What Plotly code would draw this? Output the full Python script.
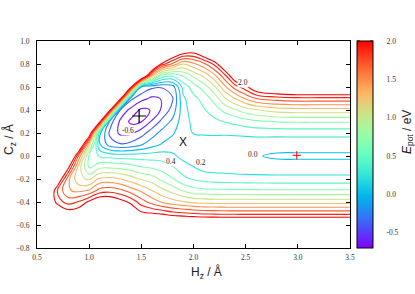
import numpy as np
import plotly.graph_objects as go

# ---------------- data ----------------
h_z = [0.5, 0.6, 0.7, 0.8, 0.9, 1.0, 1.1, 1.2, 1.3, 1.4, 1.5, 1.6, 1.7, 1.8, 1.9,
       2.0, 2.1, 2.2, 2.3, 2.4, 2.5, 2.6, 2.8, 3.0, 3.2, 3.5]
c_z = [-0.8, -0.7, -0.6, -0.5, -0.4, -0.3, -0.2, -0.1, 0.0, 0.1, 0.2, 0.3, 0.4,
       0.5, 0.6, 0.7, 0.8, 0.9, 1.0]

# E_pot (eV), one row per C_z value, one column per H_z value
e_pot = [
    [3.0, 3.0, 3.0, 3.0, 3.0, 3.0, 3.0, 3.0, 3.0, 3.0, 3.0, 3.0, 3.0, 3.0, 3.0, 3.0, 3.0, 3.0, 3.0, 3.0, 3.0, 3.0, 3.0, 3.0, 3.0, 3.0],
    [3.0, 3.0, 3.0, 3.0, 3.0, 3.0, 3.0, 3.0, 3.0, 3.0, 3.0, 3.0, 3.0, 3.0, 3.0, 3.0, 3.0, 3.0, 3.0, 3.0, 3.0, 3.0, 3.0, 3.0, 3.0, 3.0],
    [3.0, 3.0, 3.0, 3.0, 3.0, 3.0, 3.0, 3.0, 3.0, 3.0, 3.0, 2.75, 2.65, 2.58, 2.55, 2.53, 2.52, 2.52, 2.52, 2.52, 2.515, 2.515, 2.514, 2.514, 2.514, 2.514],
    [3.0, 3.0, 2.4, 2.15, 2.2, 2.4, 2.6, 2.6, 2.45, 2.25, 2.05, 2.02, 1.96, 1.88, 1.84, 1.8, 1.77, 1.76, 1.75, 1.745, 1.744, 1.744, 1.744, 1.744, 1.744, 1.744],
    [3.0, 2.4, 1.88, 1.72, 1.82, 2.05, 2.25, 2.25, 2.1, 1.95, 1.7, 1.52, 1.38, 1.28, 1.22, 1.15, 1.13, 1.12, 1.115, 1.114, 1.114, 1.114, 1.114, 1.114, 1.114, 1.114],
    [3.0, 2.5, 1.75, 1.42, 1.35, 1.42, 1.68, 1.72, 1.65, 1.5, 1.36, 1.2, 1.05, 0.92, 0.78, 0.68, 0.65, 0.64, 0.635, 0.63, 0.628, 0.626, 0.624, 0.624, 0.624, 0.624],
    [3.0, 3.0, 2.3, 1.45, 1.05, 0.97, 1.24, 1.26, 1.2, 1.1, 0.98, 0.9, 0.75, 0.62, 0.45, 0.38, 0.33, 0.31, 0.3, 0.29, 0.285, 0.28, 0.274, 0.274, 0.274, 0.274],
    [3.0, 3.0, 3.0, 2.05, 1.1, 0.57, 0.76, 0.78, 0.75, 0.7, 0.62, 0.58, 0.52, 0.42, 0.3, 0.21, 0.13, 0.11, 0.1, 0.085, 0.075, 0.07, 0.064, 0.064, 0.064, 0.064],
    [3.0, 3.0, 3.0, 2.9, 1.55, 0.55, 0.38, 0.33, 0.3, 0.3, 0.3, 0.3, 0.3, 0.24, 0.13, 0.08, 0.07, 0.06, 0.045, 0.03, 0.02, 0.01, -0.022, -0.025, -0.025, -0.025],
    [3.0, 3.0, 3.0, 3.0, 2.7, 1.1, 0.02, -0.3, -0.38, -0.33, -0.22, -0.09, 0.02, 0.08, 0.1, 0.1, 0.11, 0.11, 0.1, 0.09, 0.08, 0.075, 0.064, 0.064, 0.064, 0.064],
    [3.0, 3.0, 3.0, 3.0, 3.0, 2.4, 0.05, -0.45, -0.645, -0.64, -0.49, -0.29, -0.13, -0.02, 0.1, 0.21, 0.22, 0.225, 0.225, 0.235, 0.25, 0.265, 0.27, 0.274, 0.274, 0.274],
    [3.0, 3.0, 3.0, 3.0, 3.0, 3.0, 2.15, -0.3, -0.64, -0.845, -0.81, -0.58, -0.34, -0.15, 0.11, 0.25, 0.3, 0.35, 0.41, 0.46, 0.52, 0.57, 0.61, 0.624, 0.624, 0.624],
    [3.0, 3.0, 3.0, 3.0, 3.0, 3.0, 3.0, 2.05, -0.45, -0.66, -0.84, -0.79, -0.56, -0.32, 0.12, 0.3, 0.38, 0.5, 0.66, 0.78, 0.9, 0.98, 1.09, 1.114, 1.114, 1.114],
    [3.0, 3.0, 3.0, 3.0, 3.0, 3.0, 3.0, 3.0, 2.1, -0.35, -0.53, -0.64, -0.59, -0.42, 0.16, 0.34, 0.48, 0.68, 0.98, 1.2, 1.42, 1.6, 1.7, 1.744, 1.744, 1.744],
    [3.0, 3.0, 3.0, 3.0, 3.0, 3.0, 3.0, 3.0, 3.0, 2.1, -0.22, -0.36, -0.38, -0.3, 0.27, 0.5, 0.7, 0.95, 1.35, 1.7, 1.93, 2.25, 2.45, 2.514, 2.514, 2.514],
    [3.0, 3.0, 3.0, 3.0, 3.0, 3.0, 3.0, 3.0, 3.0, 3.0, 2.9, 1.3, 0.55, 0.45, 0.62, 0.85, 1.05, 1.35, 1.75, 2.3, 2.7, 3.0, 3.0, 3.0, 3.0, 3.0],
    [3.0, 3.0, 3.0, 3.0, 3.0, 3.0, 3.0, 3.0, 3.0, 3.0, 3.0, 3.0, 1.9, 1.55, 1.2, 1.35, 1.55, 1.85, 2.35, 3.0, 3.0, 3.0, 3.0, 3.0, 3.0, 3.0],
    [3.0, 3.0, 3.0, 3.0, 3.0, 3.0, 3.0, 3.0, 3.0, 3.0, 3.0, 3.0, 3.0, 2.4, 2.1, 2.03, 2.3, 2.6, 3.0, 3.0, 3.0, 3.0, 3.0, 3.0, 3.0, 3.0],
    [3.0, 3.0, 3.0, 3.0, 3.0, 3.0, 3.0, 3.0, 3.0, 3.0, 3.0, 3.0, 3.0, 3.0, 3.0, 3.0, 3.0, 3.0, 3.0, 3.0, 3.0, 3.0, 3.0, 3.0, 3.0, 3.0],
]

level_start, level_end, level_step = -0.8, 2.0, 0.2
e_min, e_max = -0.7, 2.0

# labelled contours
label_text = ["2.0", "0.0", "0.2", "0.4", "-0.6"]
label_h = [2.474, 2.57, 2.076, 1.789, 1.374]
label_c = [0.637, 0.009, -0.058, -0.05, 0.226]

# special points
well_h, well_c = [1.479], [0.348]
channel_h, channel_c = [2.99], [0.006]
saddle_h, saddle_c = [1.90], [0.124]

cbar_ticks = [-0.5, 0.0, 0.5, 1.0, 1.5, 2.0]
cbar_text = ["-0.5", "0.0", "0.5", "1.0", "1.5", "2.0"]
x_ticks = [0.5, 1.0, 1.5, 2.0, 2.5, 3.0, 3.5]
y_ticks = [-0.8, -0.6, -0.4, -0.2, 0.0, 0.2, 0.4, 0.6, 0.8, 1.0]

# ---------------- styling ----------------
def rainbow(t):
    r = min(1.0, abs(2 * t - 0.5))
    g = max(0.0, np.sin(np.pi * t))
    b = max(0.0, np.cos(np.pi * t / 2))
    return "rgb(%d,%d,%d)" % (round(255 * r), round(255 * g), round(255 * b))

cscale = [[float(t), rainbow(float(t))] for t in np.linspace(0, 1, 41)]

SERIF = "Liberation Serif"
SANS = "Liberation Sans"

fig = go.Figure()
fig.add_trace(go.Contour(
    x=h_z, y=c_z, z=e_pot,
    contours=dict(start=level_start, end=level_end, size=level_step, coloring="lines"),
    line=dict(width=1.1, smoothing=1.3),
    colorscale=cscale, zmin=e_min, zmax=e_max, showscale=False,
    hoverinfo="skip",
))

# colorbar carrier
fig.add_trace(go.Scatter(
    x=[None], y=[None], mode="markers", showlegend=False, hoverinfo="skip",
    marker=dict(color=[0], colorscale=cscale, cmin=e_min, cmax=e_max, showscale=True,
                colorbar=dict(x=1.0224, xanchor="left", y=0.5, yanchor="middle",
                              len=1.0, lenmode="fraction", thickness=16, thicknessmode="pixels",
                              outlinecolor="black", outlinewidth=1, xpad=0, ypad=0,
                              tickmode="array", tickvals=cbar_ticks, ticktext=cbar_text,
                              ticks="outside", ticklen=12, tickcolor="rgba(0,0,0,0)",
                              tickfont=dict(family=SERIF, size=7.5, color="#333"))),
))

fig.add_trace(go.Scatter(x=well_h, y=well_c, mode="markers", showlegend=False, hoverinfo="skip",
                         marker=dict(symbol="cross-thin", size=10, line=dict(color="black", width=1.2))))
fig.add_trace(go.Scatter(x=channel_h, y=channel_c, mode="markers", showlegend=False, hoverinfo="skip",
                         marker=dict(symbol="cross-thin", size=6, line=dict(color="red", width=1))))

annotations = []
for t, hx, cy in zip(label_text, label_h, label_c):
    annotations.append(dict(x=hx, y=cy, xref="x", yref="y", text=t, showarrow=False,
                            xanchor="center", yanchor="middle",
                            font=dict(family=SERIF, size=7.5, color="#222"),
                            bgcolor="white", borderpad=0))
annotations.append(dict(x=saddle_h[0], y=saddle_c[0], xref="x", yref="y", text="X", showarrow=False,
                        xanchor="center", yanchor="middle",
                        font=dict(family=SANS, size=12, color="#111")))
annotations.append(dict(x=0.543, y=-0.118, xref="paper", yref="paper", text="H<sub>z</sub> / Å",
                        showarrow=False, xanchor="center", yanchor="middle",
                        font=dict(family=SANS, size=12, color="#222")))
annotations.append(dict(x=-0.086, y=0.522, xref="paper", yref="paper", text="C<sub>z</sub> / Å",
                        showarrow=False, textangle=-90, xanchor="center", yanchor="middle",
                        font=dict(family=SANS, size=12, color="#222")))
annotations.append(dict(x=1.185, y=0.56, xref="paper", yref="paper",
                        text="<i>E</i><sub>pot</sub> / eV", showarrow=False, textangle=-90,
                        xanchor="center", yanchor="middle",
                        font=dict(family=SANS, size=12, color="#222")))

# short inside tick marks on both edges of the colour bar
shapes = []
for v in cbar_ticks:
    yp = (v - e_min) / (e_max - e_min)
    for a, b in [((357 - 37) / 313, (360 - 37) / 313), ((370 - 37) / 313, (373 - 37) / 313)]:
        shapes.append(dict(type="line", xref="paper", yref="paper",
                           x0=a, x1=b, y0=yp, y1=yp, line=dict(color="black", width=1)))

axis_common = dict(showline=True, linecolor="black", linewidth=1, mirror="ticks",
                   ticks="inside", ticklen=4, tickcolor="black", showgrid=False,
                   zeroline=False, tickformat=".1f", tickmode="array",
                   tickfont=dict(family=SERIF, size=7.5, color="#333"))

fig.update_layout(
    width=415, height=294, autosize=False,
    margin=dict(l=37, r=65, t=41, b=46),
    paper_bgcolor="white", plot_bgcolor="white",
    xaxis=dict(range=[0.5, 3.5], tickvals=x_ticks, ticklabelstandoff=2, **axis_common),
    yaxis=dict(range=[-0.8, 1.0], tickvals=y_ticks, ticklabelstandoff=5, **axis_common),
    annotations=annotations, shapes=shapes,
    showlegend=False, hovermode=False,
)

fig.write_html("out.html", config={"displayModeBar": False, "staticPlot": True},
               post_script="document.body.style.margin='0px';")
